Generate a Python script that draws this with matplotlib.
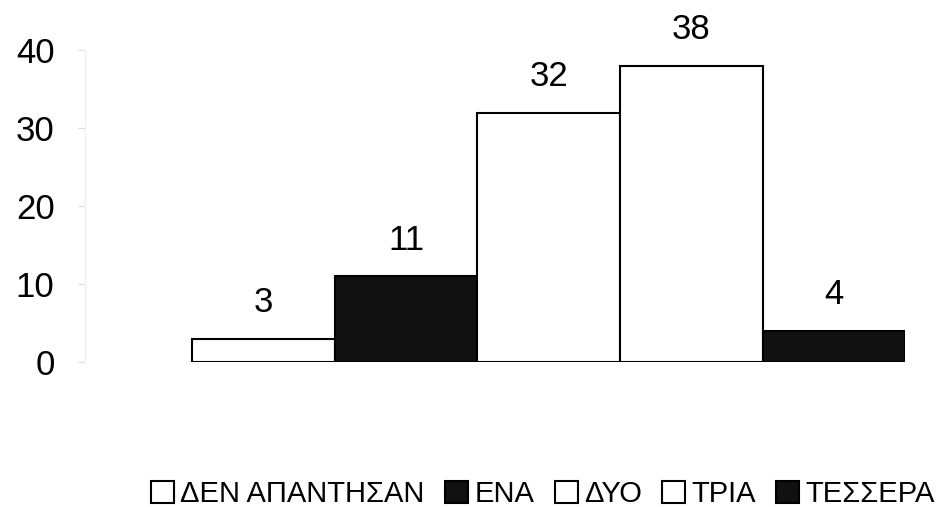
import numpy as np
import matplotlib.pyplot as plt

plt.rcParams['font.family'] = ['Liberation Sans', 'DejaVu Sans']

categories = ['ΔΕΝ ΑΠΑΝΤΗΣΑΝ', 'ΕΝΑ', 'ΔΥΟ', 'ΤΡΙΑ', 'ΤΕΣΣΕΡΑ']
values = [3, 11, 32, 38, 4]
colors = ['white', '#111111', 'white', 'white', '#111111']

fig = plt.figure(figsize=(9.36, 5.07), dpi=100)
ax = fig.add_axes([0.091, 0.286, 0.876, 0.615])

x = np.arange(len(values))
for i, (cat, v, c) in enumerate(zip(categories, values, colors)):
    ax.bar(x[i], v, width=1.0, color=c, edgecolor='black', linewidth=1.5, label=cat)
    ax.text(x[i], v + 4.6, str(v), ha='center', va='center', fontsize=25, clip_on=False)

ax.set_xlim(-1.25, 4.5)
ax.set_ylim(0, 40)
ax.set_yticks([0, 10, 20, 30, 40])
ax.tick_params(axis='y', labelsize=25, pad=17, length=5, color='#dddddd')
ax.set_xticks([])
for s in ['top', 'right', 'bottom']:
    ax.spines[s].set_visible(False)
ax.spines['left'].set_color('#eeeeee')

fig.legend(loc='center', bbox_to_anchor=(0.58, 0.026), ncol=5, frameon=False,
           fontsize=21, handlelength=0.8, handleheight=0.8, handletextpad=0.2,
           columnspacing=0.7, borderpad=0)

fig.savefig('out.png', dpi=100)
